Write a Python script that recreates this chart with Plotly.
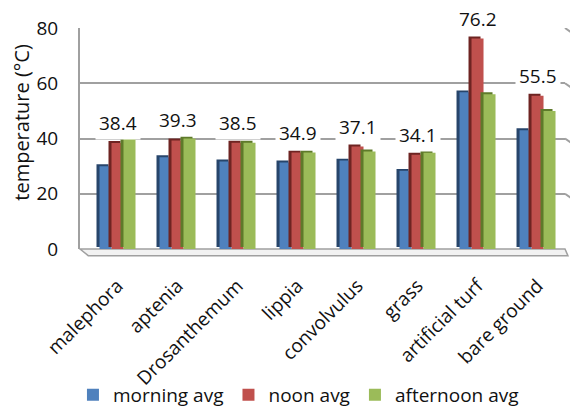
import plotly.graph_objects as go

# Surface temperatures measured over different ground covers
categories = ["malephora", "aptenia", "Drosanthemum", "lippia",
              "convolvulus", "grass", "artificial turf", "bare ground"]
morning_avg = [30.0, 33.2, 31.7, 31.3, 32.0, 28.3, 56.7, 43.0]
noon_avg = [38.4, 39.3, 38.5, 34.9, 37.1, 34.1, 76.2, 55.5]
afternoon_avg = [40.0, 40.0, 38.5, 34.9, 35.3, 34.8, 56.0, 50.0]
y_ticks = [0, 20, 40, 60, 80]

series = [
    ("morning avg", morning_avg, "#4F81BD", "#27456B", -0.3),
    ("noon avg", noon_avg, "#C0504D", "#6E2422", -0.1),
    ("afternoon avg", afternoon_avg, "#9BBB59", "#5E7A2A", 0.1),
]

BAR_W = 0.2      # front face width (category units)
SIDE_DX = 0.05   # visible side face width
LIFT = 0.7       # visible top face height (data units)
FS = 19

fig = go.Figure()
idx = list(range(len(categories)))

for name, vals, front, dark, off in series:
    # depth face drawn behind the front face to give a 3-D look
    fig.add_trace(go.Bar(
        x=idx, y=vals, base=[LIFT] * len(vals), width=BAR_W, offset=off - SIDE_DX,
        marker=dict(color=dark, line=dict(width=0)),
        showlegend=False, hoverinfo="skip"))
    fig.add_trace(go.Bar(
        x=idx, y=vals, width=BAR_W, offset=off, name=name,
        marker=dict(color=front, line=dict(width=0))))

# value labels above each group
for i, v in enumerate(noon_avg):
    fig.add_annotation(x=i, y=v, xref="x", yref="y", text=f"{v:.1f}",
                       showarrow=False, yshift=20, bgcolor="white", borderpad=3,
                       font=dict(size=FS, color="#111"))

# floor of the 3-D plot
fig.add_shape(type="path", xref="paper", yref="paper",
              path="M 0 0 L 1 0 L 1.006 -0.03 L 0.017 -0.03 Z",
              fillcolor="#F2F2F2", line=dict(color="#A0A0A0", width=1.5),
              layer="below")

# side-wall stubs at the right end of each gridline
for t in y_ticks[1:]:
    fig.add_shape(type="line", xref="paper", yref="y",
                  x0=1.0, x1=1.012, y0=t, y1=t - 1.5,
                  line=dict(color="#A0A0A0", width=2))

fig.add_annotation(text="temperature (°C)", xref="paper", yref="paper",
                   x=-0.12, y=0.575, xanchor="center", yanchor="middle",
                   textangle=-90, showarrow=False,
                   font=dict(size=20, color="#111"))

fig.update_layout(
    width=570, height=407,
    margin=dict(l=80, r=5, t=28, b=158, autoexpand=False),
    paper_bgcolor="white", plot_bgcolor="white",
    barmode="overlay",
    font=dict(family="Open Sans", size=FS, color="#111"),
    xaxis=dict(range=[-0.625, 7.458], tickmode="array", tickvals=idx,
               ticktext=categories, tickangle=-45, showgrid=False,
               zeroline=False, showline=False, ticks="",
               ticklabelstandoff=21, automargin=False),
    yaxis=dict(range=[0, 80], tickvals=y_ticks, showgrid=True,
               gridcolor="#A0A0A0", gridwidth=2, zeroline=False,
               showline=True, linecolor="#A0A0A0", linewidth=2,
               ticks="", ticklabelstandoff=16, automargin=False),
    legend=dict(orientation="h", x=0.128, xref="container", y=0.03,
                yref="container", xanchor="left", yanchor="middle",
                font=dict(size=FS), bgcolor="rgba(0,0,0,0)",
                traceorder="normal"),
    showlegend=True,
)

fig.write_html("out.html")
